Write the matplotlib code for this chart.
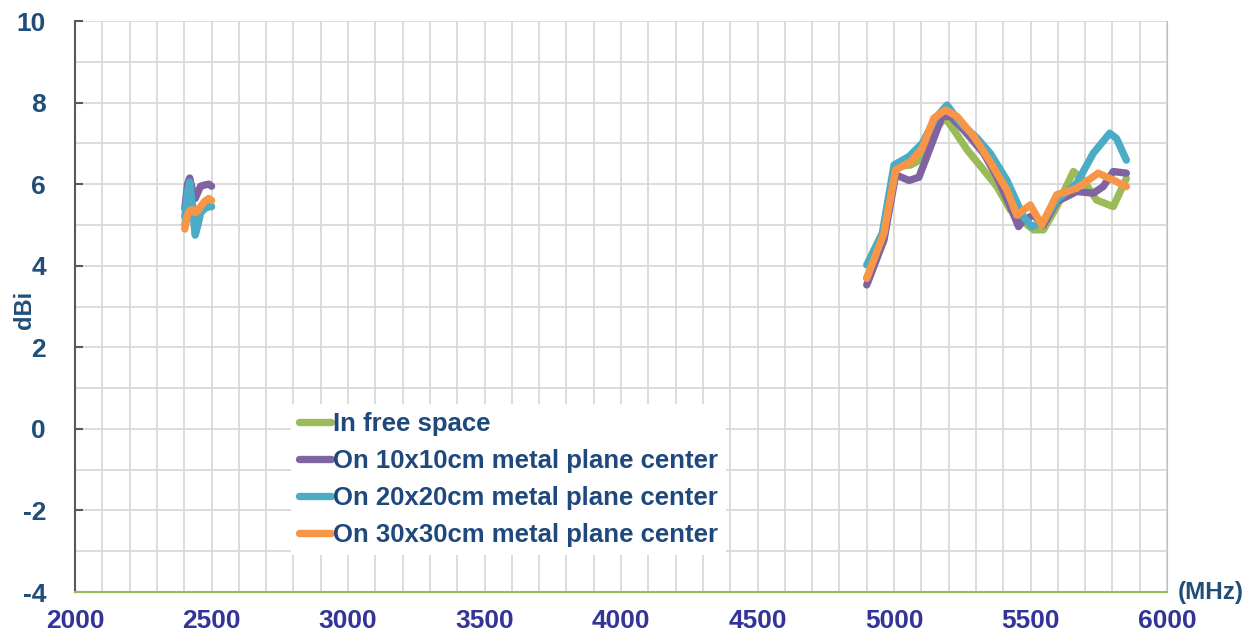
import matplotlib.pyplot as plt
from matplotlib.ticker import MultipleLocator

plt.rcParams['font.family'] = ['Liberation Sans', 'DejaVu Sans']
plt.rcParams['axes.unicode_minus'] = False

# series labels and colours
labels = ['In free space',
          'On 10x10cm metal plane center',
          'On 20x20cm metal plane center',
          'On 30x30cm metal plane center']
colors = ['#9BBB59', '#8064A2', '#4BACC6', '#F79646']

# 2.4 GHz band
f24 = [2402, 2412, 2420, 2430, 2440, 2450, 2460, 2475, 2490, 2500]
g24_free = [5.0, 5.5, 5.7, 5.5, 5.2, 5.3, 5.4, 5.45, 5.5, 5.45]
g24_10 = [5.4, 6.0, 6.15, 5.85, 5.65, 5.8, 5.95, 5.98, 6.0, 5.95]
g24_20 = [5.2, 5.8, 6.05, 5.4, 4.75, 5.0, 5.3, 5.4, 5.45, 5.45]
g24_30 = [4.9, 5.25, 5.35, 5.38, 5.3, 5.35, 5.45, 5.58, 5.65, 5.6]

# 5 GHz band
f5_free = [4900, 4963, 5006, 5061, 5097, 5146, 5188, 5219, 5268, 5328, 5377,
           5426, 5474, 5511, 5547, 5596, 5657, 5693, 5742, 5803, 5851]
g5_free = [3.7, 4.7, 6.43, 6.47, 6.6, 7.33, 7.62, 7.33, 6.84, 6.35, 5.94,
           5.37, 5.08, 4.88, 4.88, 5.45, 6.31, 6.1, 5.61, 5.45, 6.14]
f5_10 = [4900, 4963, 5006, 5055, 5091, 5134, 5176, 5207, 5255, 5328, 5377,
         5426, 5456, 5474, 5511, 5547, 5596, 5669, 5730, 5766, 5803, 5851]
g5_10 = [3.53, 4.63, 6.23, 6.09, 6.17, 6.92, 7.66, 7.66, 7.33, 6.76, 6.18,
         5.45, 4.96, 5.12, 5.24, 5.0, 5.57, 5.82, 5.78, 5.94, 6.31, 6.27]
f5_20 = [4900, 4957, 5000, 5055, 5103, 5152, 5194, 5243, 5304, 5352, 5413,
         5474, 5505, 5547, 5596, 5669, 5730, 5790, 5815, 5851]
g5_20 = [4.02, 4.8, 6.47, 6.68, 7.0, 7.62, 7.94, 7.5, 7.13, 6.76, 6.1,
         5.2, 4.96, 5.08, 5.61, 6.02, 6.76, 7.25, 7.12, 6.59]
f5_30 = [4900, 4963, 5006, 5061, 5103, 5146, 5188, 5231, 5292, 5352, 5413,
         5450, 5499, 5541, 5596, 5669, 5748, 5803, 5851]
g5_30 = [3.69, 4.8, 6.35, 6.55, 6.88, 7.62, 7.82, 7.66, 7.17, 6.55, 5.86,
         5.24, 5.49, 5.0, 5.74, 5.9, 6.27, 6.1, 5.94]

band24 = [g24_free, g24_10, g24_20, g24_30]
band5 = [(f5_free, g5_free), (f5_10, g5_10), (f5_20, g5_20), (f5_30, g5_30)]

fig = plt.figure(figsize=(12.53, 6.37), dpi=100)
ax = fig.add_axes([0.0599, 0.0706, 0.8715, 0.8964])

for i in range(4):
    kw = dict(color=colors[i], lw=5.3, solid_capstyle='round', solid_joinstyle='round')
    ax.plot(f24, band24[i], **kw)
    ax.plot(band5[i][0], band5[i][1], label=labels[i], **kw)

ax.set_xlim(2000, 6000)
ax.set_ylim(-4, 10)
ax.xaxis.set_major_locator(MultipleLocator(500))
ax.xaxis.set_minor_locator(MultipleLocator(100))
ax.yaxis.set_major_locator(MultipleLocator(2))
ax.yaxis.set_minor_locator(MultipleLocator(1))
ax.grid(True, which='both', color='#D9D9D9', lw=1.3)
ax.set_axisbelow(True)

ax.spines['top'].set_visible(False)
ax.spines['left'].set_color('#595959')
ax.spines['left'].set_linewidth(1.5)
ax.spines['right'].set_color('#BFBFBF')
ax.spines['bottom'].set_color('#9BBB59')
ax.spines['bottom'].set_linewidth(1.5)

ax.tick_params(axis='y', which='major', direction='in', length=6, width=1.5,
               color='#595959', pad=21, labelsize=19, labelcolor='#1F4E79')
ax.tick_params(axis='y', which='minor', length=0)
ax.tick_params(axis='x', which='both', length=0, pad=12, labelsize=19,
               labelcolor='#333399')
for t in ax.get_xticklabels() + ax.get_yticklabels():
    t.set_fontweight('bold')

ax.set_ylabel('dBi', fontsize=17, fontweight='bold', color='#1F4E79')
ax.yaxis.set_label_coords(-0.036, 0.494)
ax.text(1.01, 0.0, '(MHz)', transform=ax.transAxes, fontsize=17.5,
        fontweight='bold', color='#1F4E79', ha='left', va='center')

leg = ax.legend(loc='lower left', bbox_to_anchor=(0.186, 0.0425), frameon=True,
                fancybox=False, edgecolor='none', facecolor='white', framealpha=1,
                handlelength=1.25, handletextpad=0.08, labelspacing=0.51,
                borderpad=0.3, prop=dict(size=18.5, weight='bold'))
for t in leg.get_texts():
    t.set_color('#1F497D')

fig.savefig('out.png', dpi=100)
